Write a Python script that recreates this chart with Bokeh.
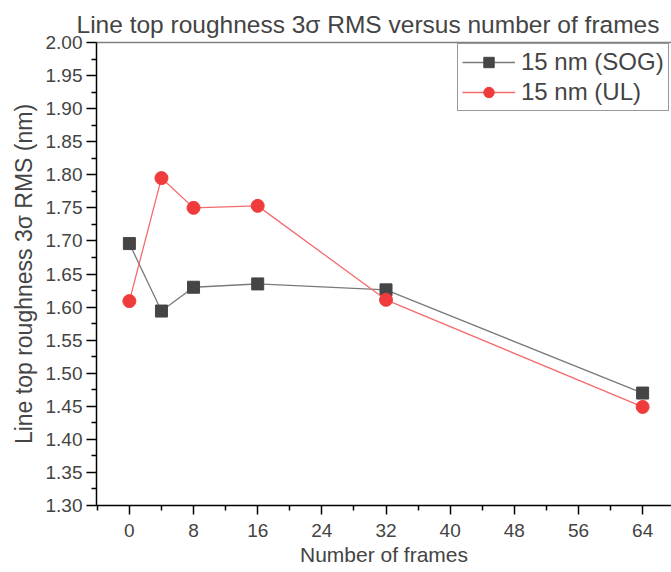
from bokeh.plotting import figure
from bokeh.models import Range1d, FixedTicker, NumeralTickFormatter, LinearAxis, Legend, LegendItem
from bokeh.embed import file_html
from bokeh.resources import INLINE

# Data
frames = [0, 4, 8, 16, 32, 64]
sog = [1.696, 1.594, 1.630, 1.635, 1.626, 1.470]
ul = [1.609, 1.795, 1.750, 1.753, 1.611, 1.449]

x_ticks = [0, 8, 16, 24, 32, 40, 48, 56, 64]
x_minor = [-4, 4, 12, 20, 28, 36, 44, 52, 60, 68]
y_ticks = [1.30, 1.35, 1.40, 1.45, 1.50, 1.55, 1.60, 1.65, 1.70, 1.75, 1.80, 1.85, 1.90, 1.95, 2.00]
y_minor = [1.325, 1.375, 1.425, 1.475, 1.525, 1.575, 1.625, 1.675, 1.725, 1.775, 1.825, 1.875, 1.925, 1.975]

FONT = "Liberation Sans"

p = figure(width=671, height=572, output_backend="svg", toolbar_location=None,
           x_axis_type=None, y_axis_type=None,
           x_range=Range1d(-4.1, 67.6), y_range=Range1d(1.30, 2.00),
           min_border_left=96, min_border_right=0, min_border_top=42, min_border_bottom=67)
p.outline_line_color = None
p.xgrid.visible = False
p.ygrid.visible = False

p.title.text = "Line top roughness 3σ RMS versus number of frames"
p.title.text_font = FONT
p.title.text_font_size = "24.5px"
p.title.text_font_style = "normal"
p.title.align = "left"
p.title.vertical_align = "top"
p.title.offset = -20
p.title.standoff = 6

# Top border line
top = LinearAxis(ticker=FixedTicker(ticks=[]), major_label_text_font_size="0px",
                 axis_line_color="#808080", axis_line_width=1.5,
                 major_tick_line_color=None, minor_tick_line_color=None,
                 major_label_standoff=0)
p.add_layout(top, "above")

xa = LinearAxis(ticker=FixedTicker(ticks=x_ticks, minor_ticks=x_minor))
xa.axis_label = "Number of frames"
xa.axis_label_text_font = FONT
xa.axis_label_text_font_size = "21px"
xa.axis_label_text_font_style = "normal"
xa.axis_label_standoff = 3
xa.major_label_text_font = FONT
xa.major_label_text_font_size = "19px"
xa.major_label_standoff = 9
xa.major_tick_out = 9
xa.major_tick_in = 0
xa.minor_tick_out = 5
xa.minor_tick_in = 0
xa.axis_line_width = 1.5
xa.major_tick_line_width = 1.5
xa.minor_tick_line_width = 1.5
xa.axis_line_color = "black"
p.add_layout(xa, "below")

ya = LinearAxis(ticker=FixedTicker(ticks=y_ticks, minor_ticks=y_minor))
ya.formatter = NumeralTickFormatter(format="0.00")
ya.axis_label = "Line top roughness 3σ RMS (nm)"
ya.axis_label_text_font = FONT
ya.axis_label_text_font_size = "23px"
ya.axis_label_text_font_style = "normal"
ya.axis_label_standoff = 6
ya.major_label_text_font = FONT
ya.major_label_text_font_size = "19px"
ya.major_label_standoff = 4
ya.major_tick_out = 10
ya.major_tick_in = 0
ya.minor_tick_out = 5
ya.minor_tick_in = 0
ya.axis_line_width = 1.5
ya.major_tick_line_width = 1.5
ya.minor_tick_line_width = 1.5
ya.axis_line_color = "black"
p.add_layout(ya, "left")

l1 = p.line(frames, sog, line_color="#7a7a7a", line_width=1.3)
s1 = p.scatter(frames, sog, marker="square", size=12, fill_color="#454545", line_color="#454545")
l2 = p.line(frames, ul, line_color="#f56b6b", line_width=1.3)
s2 = p.scatter(frames, ul, marker="circle", size=13, fill_color="#ef3b3b", line_color="#ef3b3b")

legend = Legend(items=[LegendItem(label="15 nm (SOG)", renderers=[l1, s1]),
                       LegendItem(label="15 nm (UL)", renderers=[l2, s2])],
                location=(361, 394), margin=0, padding=4, spacing=2,
                glyph_width=53, glyph_height=26, label_height=26,
                label_text_font=FONT, label_text_font_size="24px", label_standoff=6,
                border_line_color="#333333", border_line_width=1,
                background_fill_alpha=1.0)
p.add_layout(legend, "center")

open("out.html", "w").write(file_html(p, INLINE))
